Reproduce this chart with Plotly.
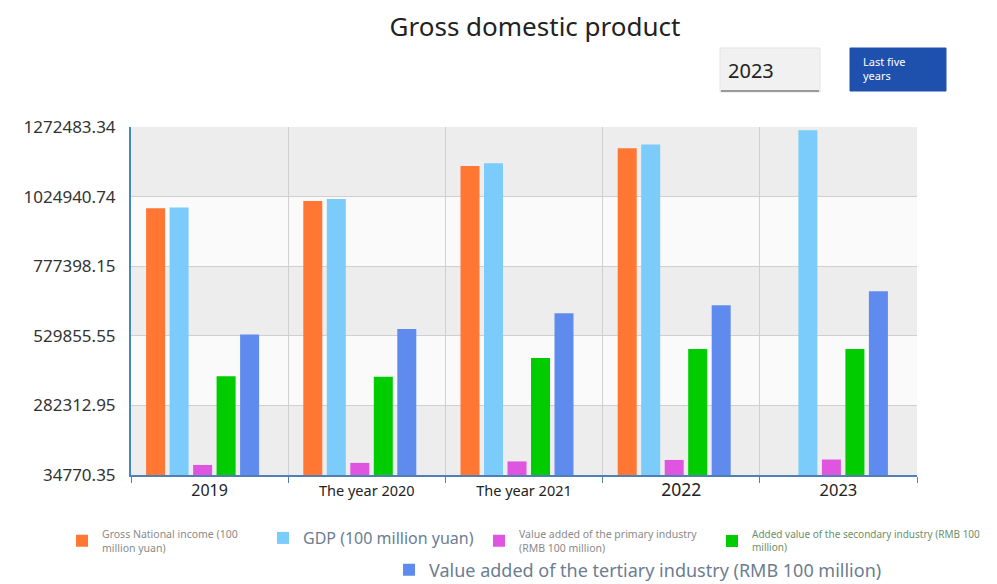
import plotly.graph_objects as go

# ---------------- data (100 million yuan) ----------------
years = ["2019", "The year 2020", "The year 2021", "2022", "2023"]
year_labels_size = [16, 14.5, 14.5, 17.5, 16.5]
gni = [983751, 1009151, 1133518, 1197250, None]
gdp = [986515, 1015986, 1143670, 1210207, 1260582]
primary = [70467, 77754, 83086, 88345, 89755]
secondary = [386165, 384255, 450904, 483164, 482589]
tertiary = [534233, 553977, 609680, 638698, 688238]

y_ticks = [34770.35, 282312.95, 529855.55, 777398.15, 1024940.74, 1272483.34]

series_names = [
    "Gross National income (100<br>million yuan)",
    "GDP (100 million yuan)",
    "Value added of the primary industry<br>(RMB 100 million)",
    "Added value of the secondary industry (RMB 100<br>million)",
    "Value added of the tertiary industry (RMB 100 million)",
]
series_colors = ["#FF7733", "#7BCBFB", "#E055E0", "#00CC00", "#5F8BEE"]

# ---------------- geometry helpers (reference pixel coords) ----------------
OFF = 8                      # page body margin
W, H = 997 - OFF, 584 - OFF  # figure size
L, R, T, B = 131, 917, 127, 475


def px_x(x):
    return (x - L) / (R - L)


def px_y(y):
    return (B - y) / (B - T)


cat_px = (R - L) / len(years)
bar_w = 19 / cat_px
bar_pitch = 23.5 / cat_px
group_left = -63.5 / cat_px

fig = go.Figure()
values = [gni, gdp, primary, secondary, tertiary]
legend_ids = ["legend", "legend2", "legend3", "legend4", "legend5"]
for i, (name, vals, col, lg) in enumerate(zip(series_names, values, series_colors, legend_ids)):
    fig.add_trace(go.Bar(
        x=years, y=vals, name=name, marker=dict(color=col, line=dict(width=0)),
        legend=lg, hoverinfo="x+y",
        width=bar_w, offset=group_left + i * bar_pitch,
    ))

# alternating bands
shapes = []
for i in range(len(y_ticks) - 1):
    shapes.append(dict(
        type="rect", xref="paper", yref="y", x0=0, x1=1,
        y0=y_ticks[i], y1=y_ticks[i + 1],
        fillcolor="#EDEDED" if i % 2 == 0 else "#FAFAFA",
        line=dict(width=0), layer="below",
    ))

# year selector box
shapes.append(dict(type="rect", xref="paper", yref="paper",
                   x0=px_x(720), x1=px_x(820), y0=px_y(92), y1=px_y(48),
                   fillcolor="#F1F1F1", line=dict(color="#E4E4E4", width=1)))
shapes.append(dict(type="line", xref="paper", yref="paper",
                   x0=px_x(721), x1=px_x(819), y0=px_y(91), y1=px_y(91),
                   line=dict(color="#9A9A9A", width=2)))
# button
shapes.append(dict(type="rect", xref="paper", yref="paper",
                   x0=px_x(850), x1=px_x(946), y0=px_y(91), y1=px_y(48),
                   fillcolor="#1E50AE", line=dict(color="#1E50AE", width=1)))

annotations = [
    dict(text="2023", xref="paper", yref="paper", x=px_x(726), y=px_y(70),
         xanchor="left", yanchor="middle", showarrow=False,
         font=dict(size=20, color="#222222", family="Noto Sans")),
    dict(text="Last five<br>years", xref="paper", yref="paper", x=px_x(861), y=px_y(68),
         xanchor="left", yanchor="middle", showarrow=False, align="left",
         font=dict(size=11, color="#FFFFFF", family="Noto Sans")),
]

tick_text = [f'<span style="font-size:{s}px">{t}</span>' for t, s in zip(years, year_labels_size)]

fig.update_layout(
    width=W, height=H, showlegend=True,
    margin=dict(l=L - OFF, r=W - (R - OFF), t=T - OFF, b=H - (B - OFF), pad=0, autoexpand=False),
    paper_bgcolor="#FFFFFF", plot_bgcolor="#FAFAFA",
    font=dict(family="Noto Sans", color="#333333"),
    title=dict(text="Gross domestic product", x=(535 - OFF) / W, xanchor="center",
               y=1 - (27 - OFF) / H, yanchor="middle", yref="container",
               font=dict(size=26, color="#222222", family="Noto Sans")),
    barmode="overlay",
    shapes=shapes, annotations=annotations,
    xaxis=dict(
        type="category", tickmode="array", tickvals=years, ticktext=tick_text,
        tickson="boundaries", ticks="outside", ticklen=6, tickcolor="#4F7FB3", tickwidth=1,
        showline=True, linecolor="#4F7FB3", linewidth=2,
        showgrid=True, gridcolor="#D0D0D0", gridwidth=1,
        tickfont=dict(size=16, color="#222222", family="Noto Sans"),
        range=[-0.5, len(years) - 0.5],
        fixedrange=True, automargin=False,
    ),
    yaxis=dict(
        range=[y_ticks[0], y_ticks[-1]], tickmode="array", tickvals=y_ticks,
        ticktext=[f"{v:.2f}" for v in y_ticks],
        showline=True, linecolor="#4A86C5", linewidth=2,
        showgrid=True, gridcolor="#CFCFCF", gridwidth=1, zeroline=False,
        ticks="", ticklabelstandoff=10,
        tickfont=dict(size=17, color="#333333", family="Noto Sans"),
        fixedrange=True, automargin=False,
    ),
)

legend_specs = [
    dict(x=62, y=541, size=10.5, color="#8A8A8A"),
    dict(x=263, y=538, size=16, color="#6B7D92"),
    dict(x=479, y=541, size=10.5, color="#8A8A8A"),
    dict(x=712, y=541, size=10, color="#6C8F6C"),
    dict(x=389, y=570, size=18, color="#6B7D92"),
]
for lg, spec in zip(legend_ids, legend_specs):
    fig.update_layout({lg: dict(
        x=px_x(spec["x"]), y=px_y(spec["y"]), xanchor="left", yanchor="middle",
        xref="paper", yref="paper", orientation="h", bgcolor="rgba(0,0,0,0)",
        font=dict(size=spec["size"], color=spec["color"], family="Noto Sans"),
        itemclick=False, itemdoubleclick=False,
    )})

fig.write_html("out.html")
